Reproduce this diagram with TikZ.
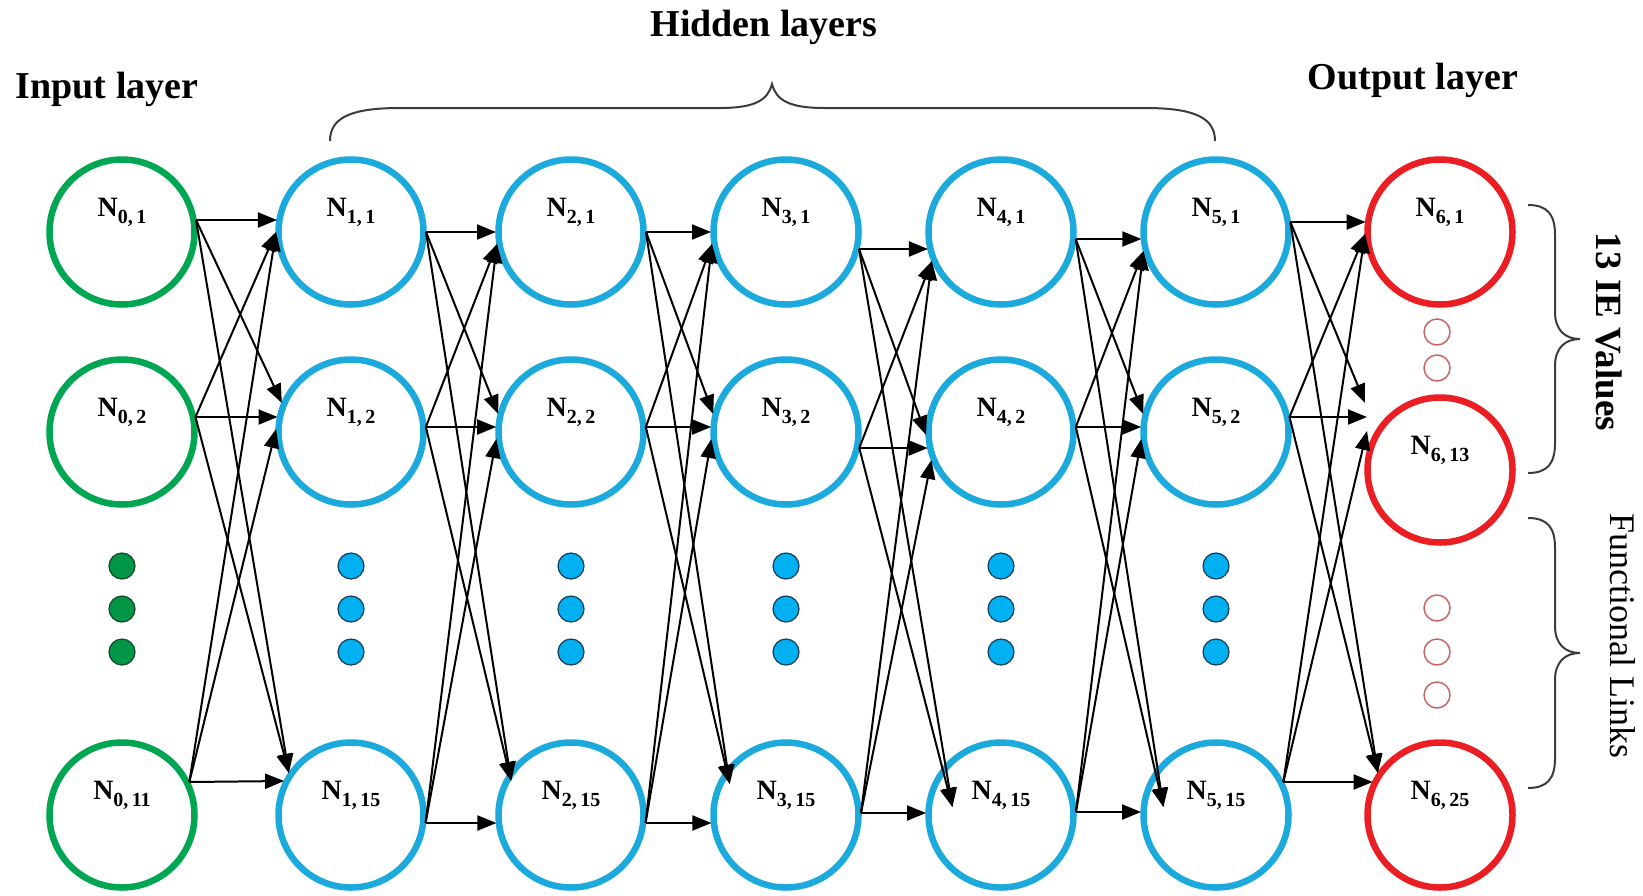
\documentclass[tikz,border=0pt]{standalone}
\usepackage{fontspec}
\setmainfont{Liberation Serif}
\usetikzlibrary{arrows.meta,calc}
\definecolor{cgreen}{RGB}{0,166,81}
\definecolor{cblue}{RGB}{28,170,220}
\definecolor{cred}{RGB}{235,30,35}
\definecolor{dgreenfill}{RGB}{0,150,70}
\definecolor{dgreenline}{RGB}{20,70,40}
\definecolor{dbluefill}{RGB}{0,176,240}
\definecolor{dblueline}{RGB}{20,60,90}
\definecolor{smallred}{RGB}{200,100,100}
\definecolor{bracecol}{RGB}{60,60,60}
\newcommand\nlab[2]{\bfseries N\raisebox{-7pt}{\fontsize{20}{20}\selectfont #1,\,#2}}
\tikzset{
  neuron/.style={circle,minimum size=145pt,inner sep=0pt,line width=6.5pt,
    font=\fontsize{28}{28}\selectfont,text height=20pt,text depth=52pt},
  inn/.style={neuron,draw=cgreen},
  hid/.style={neuron,draw=cblue},
  outn/.style={neuron,draw=cred},
  gdot/.style={circle,minimum size=26pt,inner sep=0pt,fill=dgreenfill,draw=dgreenline,line width=1.2pt},
  bdot/.style={circle,minimum size=26pt,inner sep=0pt,fill=dbluefill,draw=dblueline,line width=1.2pt},
  rdot/.style={circle,minimum size=26pt,inner sep=0pt,draw=smallred,line width=1.5pt},
  title/.style={font=\fontsize{38}{38}\selectfont\bfseries},
  arr/.style={line width=2pt,-{Triangle[length=19pt,width=15pt]}},
  bracepath/.style={line width=2pt,draw=bracecol}
}
\begin{document}
\begin{tikzpicture}[x=1pt,y=-1pt]
\useasboundingbox (0,0) rectangle (1643,895);
% titles
\node[title] (tin) at (107,89) {Input layer};
\node[title] (thid) at (764,27) {Hidden layers};
\node[title] (tout) at (1413,80) {Output layer};
\node[title,font=\fontsize{37}{37}\selectfont\bfseries,rotate=-90] (tie) at (1609,332) {13 IE Values};
\node[font=\fontsize{36}{36}\selectfont,rotate=-90] (tfl) at (1623,636) {Functional Links};
% input layer
\node[inn] (n01) at (122,232) {\nlab{0}{1}};
\node[inn] (n02) at (122,432) {\nlab{0}{2}};
\node[inn] (n03) at (122,815) {\nlab{0}{11}};
% hidden layers
\foreach \c/\x in {1/351,2/571,3/786,4/1001,5/1216}{
  \node[hid] (n\c1) at (\x,232) {\nlab{\c}{1}};
  \node[hid] (n\c2) at (\x,432) {\nlab{\c}{2}};
  \node[hid] (n\c3) at (\x,815) {\nlab{\c}{15}};
  \node[bdot] (d\c1) at (\x,566) {};
  \node[bdot] (d\c2) at (\x,609) {};
  \node[bdot] (d\c3) at (\x,652) {};
}
\node[gdot] (d01) at (122,566) {};
\node[gdot] (d02) at (122,609) {};
\node[gdot] (d03) at (122,652) {};
% output layer
\node[outn] (n61) at (1440,232) {\nlab{6}{1}};
\node[outn] (n62) at (1440,470) {\nlab{6}{13}};
\node[outn] (n63) at (1440,815) {\nlab{6}{25}};
\node[rdot] (r1) at (1437,332) {};
\node[rdot] (r2) at (1437,368) {};
\node[rdot] (r3) at (1437,608) {};
\node[rdot] (r4) at (1437,652) {};
\node[rdot] (r5) at (1437,695) {};
% ports
\foreach \n/\cx/\cy/\ex/\en/\ad/\ai in {
  01/122/232/-12/0/0/0, 02/122/432/-15/0/0/0, 03/122/815/-33/0/0/0,
  11/351/232/0/-12/-25/0, 12/351/432/-5/-15/-29/0, 13/351/815/8/-34/-42/0,
  21/571/232/0/0/-13/0, 22/571/432/-5/-5/-18/0, 23/571/815/8/8/-34/7,
  31/786/232/17/0/-13/0, 32/786/432/16/-5/-18/0, 33/786/815/-2/8/-31/12,
  41/1001/232/7/17/4/0, 42/1001/432/-5/16/3/0, 43/1001/815/-3/-2/-8/26,
  51/1216/232/-10/7/-6/0, 52/1216/432/-15/-5/-18/0, 53/1216/815/-33/-3/-8/22,
  61/1440/232/0/-10/-23/0, 63/1440/815/0/-33/-42/0}{
  \coordinate (x\n) at ({\cx+sqrt(5625-(\ex)*(\ex))},{\cy+\ex});
  \coordinate (h\n) at ({\cx-sqrt(5625-(\en)*(\en))},{\cy+\en});
  \coordinate (a\n) at ({\cx-sqrt(5625-(\ad)*(\ad))+\ai},{\cy+\ad});
  \coordinate (b\n) at ({\cx-sqrt(5625-(\en+12)*(\en+12))},{\cy+\en+12});
}
\coordinate (h62) at (1367,417);
\coordinate (a62) at (1365,403);
\coordinate (b62) at (1367,431);
% connections
\foreach \c in {0,...,5}{
  \pgfmathtruncatemacro\d{\c+1}
  \foreach \r in {1,2,3}{
    \foreach \s in {1,2,3}{
      \ifnum\r=\s \def\p{h}\else\ifnum\r<\s \def\p{a}\else\def\p{b}\fi\fi
      \draw[arr] (x\c\r) -- (\p\d\s);
    }
  }
}
% braces
\draw[bracepath] (330,141) .. controls (330,118) and (350,108) .. (400,108)
  -- (720,108) .. controls (755,108) and (768,100) .. (772,84)
  .. controls (776,100) and (789,108) .. (824,108)
  -- (1145,108) .. controls (1195,108) and (1215,118) .. (1215,141);
\draw[bracepath] (1528,205) .. controls (1548,205) and (1555,215) .. (1555,235)
  -- (1555,312) .. controls (1555,330) and (1565,339) .. (1580,339)
  .. controls (1565,339) and (1555,348) .. (1555,366)
  -- (1555,443) .. controls (1555,463) and (1548,473) .. (1528,473);
\draw[bracepath] (1528,518) .. controls (1548,518) and (1555,528) .. (1555,548)
  -- (1555,626) .. controls (1555,644) and (1565,653) .. (1580,653)
  .. controls (1565,653) and (1555,662) .. (1555,680)
  -- (1555,758) .. controls (1555,778) and (1548,788) .. (1528,788);
\end{tikzpicture}
\end{document}
